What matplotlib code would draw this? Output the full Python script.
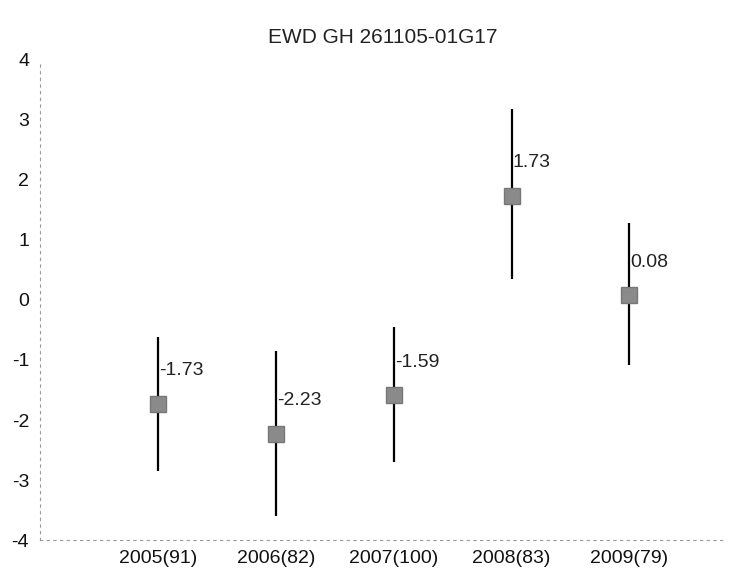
import numpy as np
import matplotlib.pyplot as plt

plt.rcParams['font.family'] = ['Liberation Sans', 'DejaVu Sans']
plt.rcParams['axes.unicode_minus'] = False

# data
categories = ['2005(91)', '2006(82)', '2007(100)', '2008(83)', '2009(79)']
means = [-1.73, -2.23, -1.59, 1.73, 0.08]
lower = [-2.85, -3.60, -2.70, 0.35, -1.08]
upper = [-0.62, -0.85, -0.45, 3.18, 1.28]
labels = ['-1.73', '-2.23', '-1.59', '1.73', '0.08']

x = np.arange(1, len(categories) + 1)

fig = plt.figure(figsize=(7.3, 5.74), dpi=100)
ax = fig.add_axes([0.055, 0.059, 0.938, 0.837])

# error bars
ax.vlines(x, lower, upper, color='black', linewidth=1.6, zorder=2)
ax.plot(x, means, linestyle='none', marker='s', markersize=12,
        markerfacecolor='#8a8a8a', markeredgecolor='#777777', zorder=3)

for xi, m, lab in zip(x, means, labels):
    ax.text(xi + 0.01, m + 0.55, lab, fontsize=14, ha='left', va='center',
            color='#222222')

ax.set_xlim(0, 5.81)
ax.set_ylim(-4, 4)
ax.set_xticks(x)
ax.set_xticklabels(categories, fontsize=14)
ax.set_yticks(range(-4, 5))
ax.tick_params(axis='both', length=0, labelsize=14, colors='#111111')
ax.tick_params(axis='y', pad=8)
ax.tick_params(axis='x', pad=7)

for s in ['top', 'right']:
    ax.spines[s].set_visible(False)
for s in ['left', 'bottom']:
    ax.spines[s].set_color('#999999')
    ax.spines[s].set_linestyle((0, (2, 4)))
    ax.spines[s].set_linewidth(0.8)

fig.text(0.524, 0.934, 'EWD GH 261105-01G17', fontsize=15, ha='center',
         va='center', color='#222222')

plt.savefig('out.png', dpi=100)
